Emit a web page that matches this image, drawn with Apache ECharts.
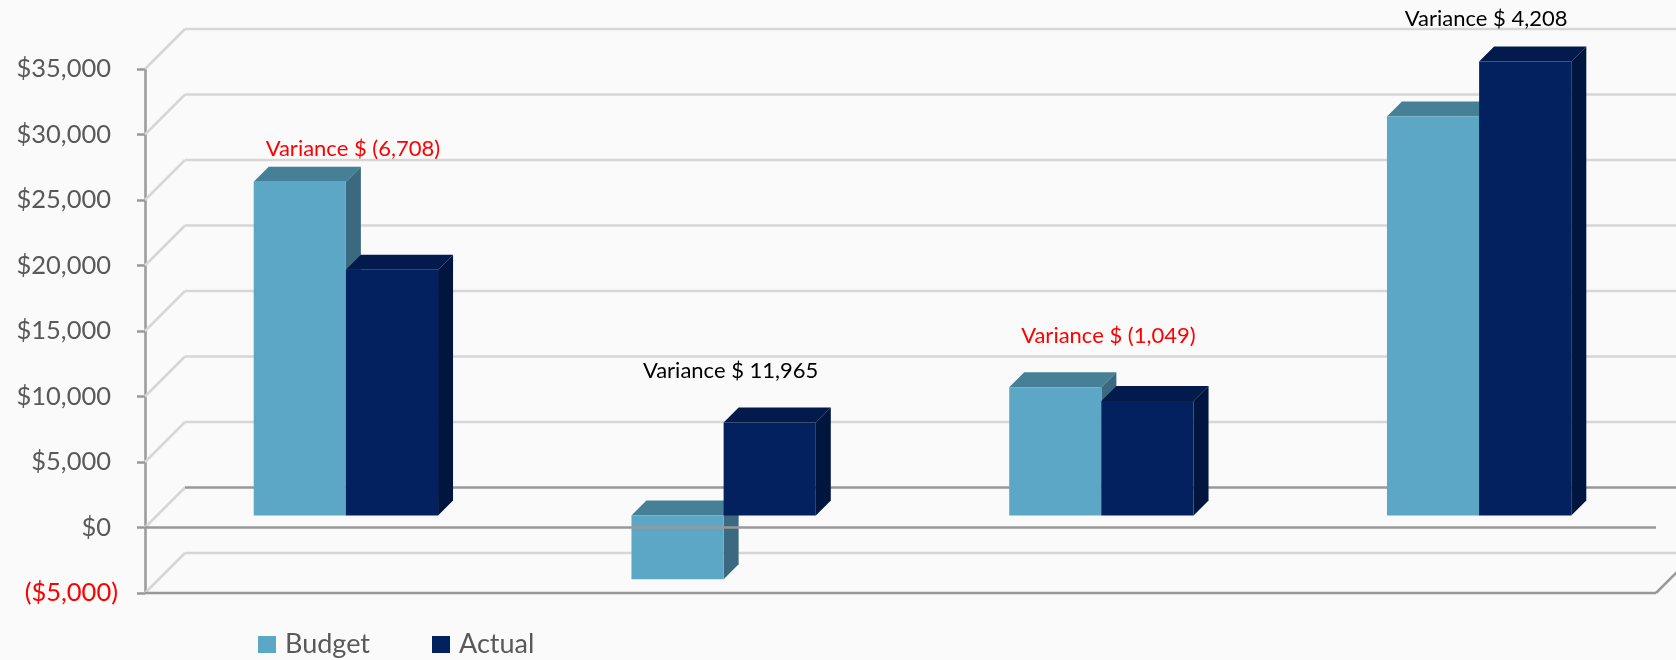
<!DOCTYPE html>
<html>
<head>
<meta charset="utf-8">
<title>Budget vs Actual</title>
<script src="https://cdn.jsdelivr.net/npm/echarts@6/dist/echarts.min.js"></script>
<style>
  html, body { margin: 0; padding: 0; background: #fafafa; }
  #chart { width: 1676px; height: 660px; }
</style>
</head>
<body>
<div id="chart"></div>
<script>
const categories = ['Group 1', 'Group 2', 'Group 3', 'Group 4'];
const budget = [25470, -4865, 9790, 30450];
const actual = [18762, 7100, 8741, 34658];
// value level where each variance label sits (measured on the bar plane)
const labelLevel = [28000, 11000, 13700, 37900];
const yTicks = [-5000, 0, 5000, 10000, 15000, 20000, 25000, 30000, 35000];

const WALL = 40;   // depth of the back wall
const FRONT = 12;  // bars stand this far behind the front edge
const DEPTH = 15;  // bar depth
const BAR_RATIO = 0.244;

const FONT = 'Lato';
const AXIS_DARK = '#999999';
const GRID_LIGHT = '#d6d6d6';

const budgetColors = { front: '#5ca7c6', top: '#468096', side: '#3b6a80' };
const actualColors = { front: '#03215e', top: '#021b4c', side: '#01163f' };

const fmt = v => String(v).replace(/\B(?=(\d{3})+(?!\d))/g, ',');

function renderWall(params, api) {
  const cs = params.coordSys;
  const v = api.value(1);
  const y = api.coord([0, v])[1];
  const x0 = cs.x;
  return {
    type: 'group',
    children: [
      { type: 'line', shape: { x1: x0, y1: y, x2: x0 + WALL, y2: y - WALL },
        style: { stroke: GRID_LIGHT, lineWidth: 2.5 } },
      { type: 'line', shape: { x1: x0 + WALL, y1: y - WALL, x2: x0 + cs.width + WALL, y2: y - WALL },
        style: { stroke: v === 0 ? AXIS_DARK : GRID_LIGHT, lineWidth: 2.5 } }
    ]
  };
}

function renderFloor(params, api) {
  const cs = params.coordSys;
  const v = api.value(1);
  const y = api.coord([0, v])[1];
  const x1 = cs.x, x2 = cs.x + cs.width;
  const children = [
    { type: 'line', shape: { x1: x1, y1: y, x2: x2, y2: y }, style: { stroke: AXIS_DARK, lineWidth: 2.5 } }
  ];
  if (v < 0) {
    children.push({ type: 'line', shape: { x1: x2, y1: y, x2: x2 + WALL, y2: y - WALL },
      style: { stroke: AXIS_DARK, lineWidth: 2.5 } });
  }
  return { type: 'group', children: children };
}

function barRenderer(side, colors) {
  return function (params, api) {
    const i = api.value(0);
    const v = api.value(1);
    const base = api.coord([i, 0]);
    const top = api.coord([i, v]);
    const w = api.size([1, 0])[0] * BAR_RATIO;
    const xl = base[0] + FRONT + (side < 0 ? -w : 0);
    const xr = xl + w;
    const yUp = Math.min(base[1], top[1]) - FRONT;
    const yLo = Math.max(base[1], top[1]) - FRONT;
    return {
      type: 'group',
      children: [
        { type: 'polygon',
          shape: { points: [[xr, yUp], [xr + DEPTH, yUp - DEPTH], [xr + DEPTH, yLo - DEPTH], [xr, yLo]] },
          style: { fill: colors.side } },
        { type: 'polygon',
          shape: { points: [[xl, yUp], [xr, yUp], [xr + DEPTH, yUp - DEPTH], [xl + DEPTH, yUp - DEPTH]] },
          style: { fill: colors.top } },
        { type: 'rect', shape: { x: xl, y: yUp, width: w, height: yLo - yUp },
          style: { fill: colors.front } }
      ]
    };
  };
}

function renderVariance(params, api) {
  const i = api.value(0);
  const p = api.coord([i, api.value(1)]);
  const variance = actual[i] - budget[i];
  const text = variance < 0 ? 'Variance $ (' + fmt(-variance) + ')' : 'Variance $ ' + fmt(variance);
  return {
    type: 'text',
    x: p[0] + FRONT + 7,
    y: p[1] - FRONT,
    style: {
      text: text,
      fill: variance < 0 ? '#ff0000' : '#000000',
      fontFamily: FONT,
      fontSize: 22,
      align: 'center',
      verticalAlign: 'middle'
    }
  };
}

const chart = echarts.init(document.getElementById('chart'));

chart.setOption({
  backgroundColor: '#fafafa',
  animation: false,
  textStyle: { fontFamily: FONT },
  grid: { left: 145, right: 20, top: 69, bottom: 67 },
  legend: {
    data: ['Budget', 'Actual'],
    left: 258,
    top: 631,
    padding: 0,
    icon: 'rect',
    itemWidth: 18,
    itemHeight: 17,
    itemGap: 62,
    textStyle: { fontFamily: FONT, fontSize: 27, color: '#595959', padding: [0, 0, 0, 4] }
  },
  xAxis: {
    type: 'category',
    data: categories,
    axisLine: { show: false },
    axisTick: { show: false },
    axisLabel: { show: false }
  },
  yAxis: {
    type: 'value',
    min: -5000,
    max: 35000,
    interval: 5000,
    axisLine: { show: true, lineStyle: { color: AXIS_DARK, width: 2.5 } },
    axisTick: { show: true, length: 8, lineStyle: { color: AXIS_DARK, width: 2.5 } },
    splitLine: { show: false },
    axisLabel: {
      margin: 27,
      formatter: v => v < 0 ? '{neg|($' + fmt(-v) + ')}' : '{pos|$' + fmt(v) + '}',
      rich: {
        pos: { fontFamily: FONT, fontSize: 25.5, color: '#595959', padding: [0, 7, 0, 0] },
        neg: { fontFamily: FONT, fontSize: 25.5, color: '#ff0000' }
      }
    }
  },
  series: [
    {
      type: 'custom',
      name: 'wall',
      z: 1,
      silent: true,
      renderItem: renderWall,
      data: yTicks.map(v => [0, v])
    },
    {
      type: 'custom',
      name: 'Budget',
      z: 2,
      itemStyle: { color: budgetColors.front },
      renderItem: barRenderer(-1, budgetColors),
      data: budget.map((v, i) => [i, v])
    },
    {
      type: 'custom',
      name: 'Actual',
      z: 2,
      itemStyle: { color: actualColors.front },
      renderItem: barRenderer(1, actualColors),
      data: actual.map((v, i) => [i, v])
    },
    {
      type: 'custom',
      name: 'floor',
      z: 3,
      silent: true,
      renderItem: renderFloor,
      data: yTicks.filter(v => v <= 0).map(v => [0, v])
    },
    {
      type: 'custom',
      name: 'variance',
      z: 4,
      silent: true,
      renderItem: renderVariance,
      data: labelLevel.map((v, i) => [i, v])
    }
  ]
});
</script>
</body>
</html>
